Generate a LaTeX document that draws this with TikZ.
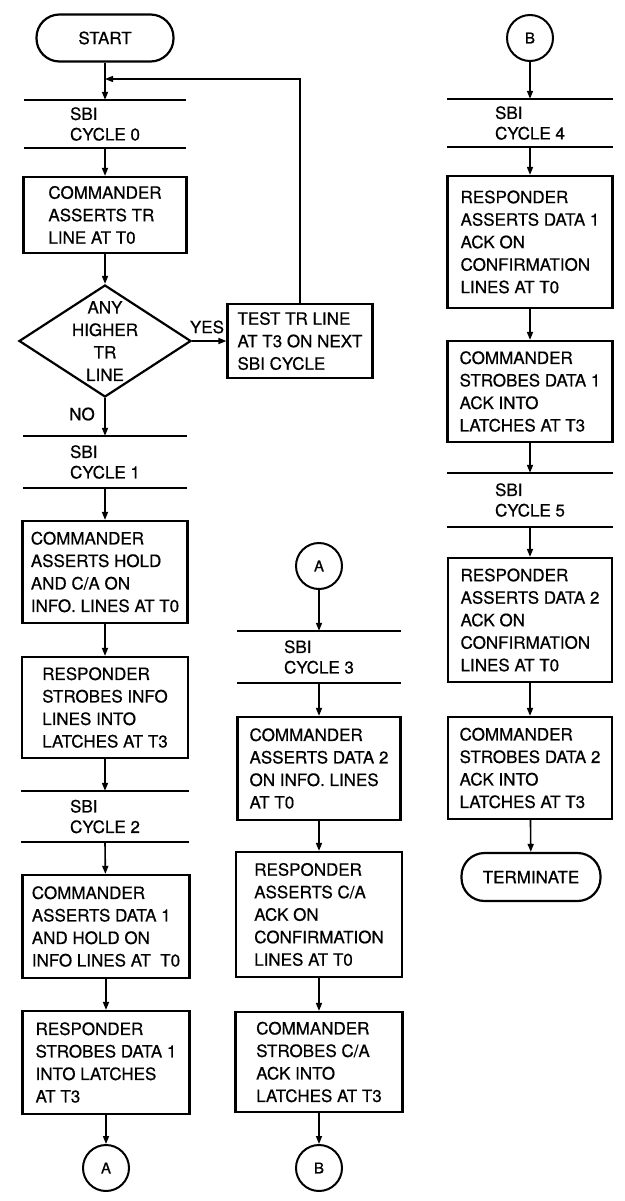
\documentclass[tikz,border=0pt]{standalone}
\usepackage{fontspec}
\setmainfont{TeX Gyre Heros}[FakeBold=0.6]
\usetikzlibrary{arrows.meta, shapes.geometric}

\begin{document}
\begin{tikzpicture}[x=1pt, y=-1pt,
        every node/.style={font=\fontsize{17}{22.5}\selectfont},
        proc/.style={rectangle, draw, line width=2.2pt,
                     align=left, inner sep=0pt},
        cyc/.style={rectangle, align=left, inner sep=0pt,
                    font=\fontsize{17}{20.5}\selectfont},
        dec/.style={diamond, draw, line width=2.2pt, inner sep=0pt},
        term/.style={rectangle, rounded corners=23pt, draw,
                     line width=2.2pt, inner sep=0pt},
        conn/.style={circle, draw, line width=2pt, minimum size=46pt,
                     inner sep=0pt, font=\fontsize{15}{18}\selectfont},
        bar/.style={line width=2.2pt},
        arr/.style={-{Triangle[length=8pt, width=6pt]}, line width=1.6pt},
      ]
        \useasboundingbox (0,0) rectangle (624,1201);

        \node[term, minimum width=137pt, minimum height=47pt] (start)
          at (105,38) {START};
        \node[cyc, minimum width=162pt, minimum height=48pt] (c0)
          at (105,124) {SBI\\CYCLE 0};
        \node[proc, minimum width=163pt, minimum height=76pt] (b0)
          at (105,215) {COMMANDER\\ASSERTS TR\\LINE AT T0};
        \node[dec, minimum width=172pt, minimum height=112pt] (dia)
          at (105,341) {};
        \node[align=center] (diaText) at (dia.center)
          {ANY\\HIGHER\\TR\\LINE};
        \node[proc, minimum width=145pt, minimum height=74pt] (test)
          at (300,341) {TEST TR LINE\\AT T3 ON NEXT\\SBI CYCLE};
        \node[cyc, minimum width=163pt, minimum height=52pt] (c1)
          at (105,462) {SBI\\CYCLE 1};
        \node[proc, minimum width=165pt, minimum height=102pt] (b1)
          at (105,572) {COMMANDER\\ASSERTS HOLD\\AND C/A ON\\INFO. LINES AT T0};
        \node[proc, minimum width=166pt, minimum height=101pt] (b2)
          at (105,707.5) {RESPONDER\\STROBES INFO\\LINES INTO\\LATCHES AT T3};
        \node[cyc, minimum width=167pt, minimum height=51pt] (c2)
          at (105,816.5) {SBI\\CYCLE 2};
        \node[proc, minimum width=167pt, minimum height=103pt] (b3)
          at (106,926.5) {COMMANDER\\ASSERTS DATA 1\\AND HOLD ON\\INFO LINES AT\ \ T0};
        \node[proc, minimum width=167pt, minimum height=103pt] (b4)
          at (106,1062.5) {RESPONDER\\STROBES DATA 1\\INTO LATCHES\\AT T3};
        \node[conn] (outA) at (106,1168) {A};

        \node[conn] (inA) at (319,566) {A};
        \node[cyc, minimum width=163pt, minimum height=52pt] (c3)
          at (319,657) {SBI\\CYCLE 3};
        \node[proc, minimum width=163pt, minimum height=103pt] (b5)
          at (319,768.5) {COMMANDER\\ASSERTS DATA 2\\ON INFO. LINES\\AT T0};
        \node[proc, minimum width=166pt, minimum height=125pt] (b6)
          at (319,914.5) {RESPONDER\\ASSERTS C/A\\ACK ON\\CONFIRMATION\\LINES AT T0};
        \node[proc, minimum width=167pt, minimum height=100pt] (b7)
          at (319,1062) {COMMANDER\\STROBES C/A\\ACK INTO\\LATCHES AT T3};
        \node[conn] (outB) at (319,1168) {B};

        \node[conn] (inB) at (530,38) {B};
        \node[cyc, minimum width=165pt, minimum height=48pt] (c4)
          at (530,123) {SBI\\CYCLE 4};
        \node[proc, minimum width=165pt, minimum height=132pt] (b8)
          at (530,242) {RESPONDER\\ASSERTS DATA 1\\ACK ON\\CONFIRMATION\\LINES AT T0};
        \node[proc, minimum width=165pt, minimum height=101pt] (b9)
          at (530,391.5) {COMMANDER\\STROBES DATA 1\\ACK INTO\\LATCHES AT T3};
        \node[cyc, minimum width=165pt, minimum height=54pt] (c5)
          at (530,500) {SBI\\CYCLE 5};
        \node[proc, minimum width=164pt, minimum height=124pt] (b10)
          at (530,620) {RESPONDER\\ASSERTS DATA 2\\ACK ON\\CONFIRMATION\\LINES AT T0};
        \node[proc, minimum width=164pt, minimum height=102pt] (b11)
          at (530,768) {COMMANDER\\STROBES DATA 2\\ACK INTO\\LATCHES AT T3};
        \node[term, minimum width=139pt, minimum height=48pt] (stop)
          at (531,877) {TERMINATE};

        \node (yes) at (207,327) {YES};
        \node (no) at (82,414) {NO};

        \foreach \c in {c0,c1,c2,c3,c4,c5}
          \draw[bar] (\c.north west) -- (\c.north east)
                     (\c.south west) -- (\c.south east);

        \coordinate (fb) at (105,79);
        \draw[arr, line width=1.3pt] (test.north) |- (fb);

        \draw[arr] (start) -- (c0.north);
        \draw[arr] (c0.south) -- (b0);
        \draw[arr] (b0) -- (dia);
        \draw[arr] (dia) -- (test);
        \draw[arr] (dia) -- (c1.north);
        \draw[arr] (c1.south) -- (b1);
        \draw[arr] (b1) -- (b2);
        \draw[arr] (b2) -- (c2.north);
        \draw[arr] (c2.south) -- (b3);
        \draw[arr] (b3) -- (b4);
        \draw[arr] (b4) -- (outA);

        \draw[arr] (inA) -- (c3.north);
        \draw[arr] (c3.south) -- (b5);
        \draw[arr] (b5) -- (b6);
        \draw[arr] (b6) -- (b7);
        \draw[arr] (b7) -- (outB);

        \draw[arr] (inB) -- (c4.north);
        \draw[arr] (c4.south) -- (b8);
        \draw[arr] (b8) -- (b9);
        \draw[arr] (b9) -- (c5.north);
        \draw[arr] (c5.south) -- (b10);
        \draw[arr] (b10) -- (b11);
        \draw[arr] (b11) -- (stop);
      \end{tikzpicture}
\end{document}
